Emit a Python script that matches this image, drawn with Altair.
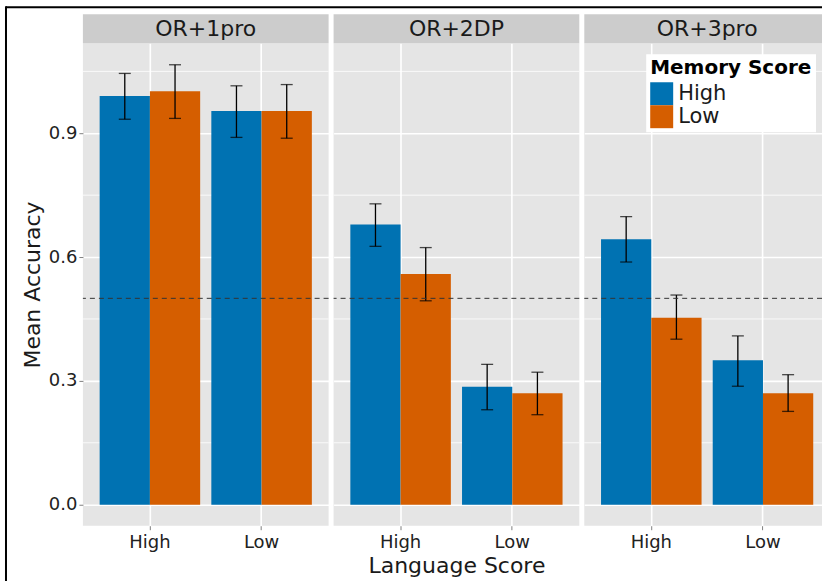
import altair as alt
import pandas as pd

# Facet panels and the grouping variables
panels = ["OR+1pro", "OR+2DP", "OR+3pro"]
language = ["High", "High", "Low", "Low"]
memory = ["High", "Low", "High", "Low"]

# Mean accuracy and error-bar limits, per panel, in the order of language/memory
acc_1pro = [0.990, 1.002, 0.954, 0.954]
lo_1pro = [0.934, 0.936, 0.890, 0.888]
hi_1pro = [1.045, 1.066, 1.015, 1.018]

acc_2dp = [0.679, 0.559, 0.286, 0.270]
lo_2dp = [0.626, 0.494, 0.230, 0.218]
hi_2dp = [0.729, 0.623, 0.340, 0.321]

acc_3pro = [0.643, 0.453, 0.350, 0.270]
lo_3pro = [0.588, 0.401, 0.287, 0.226]
hi_3pro = [0.698, 0.508, 0.409, 0.315]

chance = [0.5]
y_ticks = [0.0, 0.3, 0.6, 0.9]
y_minor = [0.15, 0.45, 0.75, 1.05]
y_domain = [-0.051, 1.118]

mem_colors = ["#0072B2", "#D55E00"]
FONT = "DejaVu Sans"
PANEL_W = 246
PANEL_H = 483
STRIP_H = 29

values = [(acc_1pro, lo_1pro, hi_1pro), (acc_2dp, lo_2dp, hi_2dp), (acc_3pro, lo_3pro, hi_3pro)]


def make_panel(i, width, xscale, first=False, middle=False, legend=None):
    acc, lo, hi = values[i]
    df = pd.DataFrame({"language": language, "memory": memory,
                       "acc": acc, "lo": lo, "hi": hi})
    strip_df = pd.DataFrame({"panel": [panels[i]]})

    if first:
        yaxis = alt.Axis(values=y_ticks, format=".1f", title="Mean Accuracy",
                         labelFontSize=18, titleFontSize=22, titleFontWeight="normal",
                         labelColor="#222222", titleColor="#1a1a1a", titleFont=FONT,
                         labelFont=FONT, tickColor="#7f7f7f", tickSize=4,
                         labelPadding=2, titlePadding=4, domain=False,
                         grid=True, gridColor="white", gridWidth=1.6)
    else:
        yaxis = alt.Axis(values=y_ticks, labels=False, ticks=False, domain=False,
                         title=None, grid=True, gridColor="white", gridWidth=1.6)

    xaxis = alt.Axis(title="Language Score" if middle else None, labelAngle=0,
                     labelFontSize=18, titleFontSize=22, titleFontWeight="normal",
                     labelColor="#222222", titleColor="#1a1a1a", labelFont=FONT,
                     titleFont=FONT, tickColor="#7f7f7f", tickSize=4,
                     labelPadding=4, titlePadding=4, domain=False, grid=True,
                     gridColor="white", gridWidth=1.6, bandPosition=0.5)

    yscale = alt.Scale(domain=y_domain, nice=False, zero=False)
    x = alt.X("language:N", scale=xscale, axis=xaxis, sort=["High", "Low"])
    xoff = alt.XOffset("memory:N", sort=["High", "Low"])

    # minor horizontal gridlines between the labelled ticks, drawn under the bars
    minor = alt.Chart(pd.DataFrame({"v": y_minor})).mark_rule(
        color="white", strokeWidth=0.8).encode(
        y=alt.Y("v:Q", scale=yscale, axis=yaxis))

    color = alt.Color("memory:N", sort=["High", "Low"],
                      scale=alt.Scale(domain=["High", "Low"], range=mem_colors),
                      legend=legend)
    bars = alt.Chart(df).mark_bar().encode(
        x=x, xOffset=xoff, y=alt.Y("acc:Q", scale=yscale, axis=yaxis), color=color)

    err = alt.Chart(df).mark_rule(color="black", strokeWidth=1.3).encode(
        x=alt.X("language:N", sort=["High", "Low"]), xOffset=xoff,
        y=alt.Y("lo:Q"), y2="hi:Q")
    cap_lo = alt.Chart(df).mark_tick(color="black", thickness=1.3, size=12,
                                     orient="horizontal").encode(
        x=alt.X("language:N", sort=["High", "Low"]), xOffset=xoff, y="lo:Q")
    cap_hi = alt.Chart(df).mark_tick(color="black", thickness=1.3, size=12,
                                     orient="horizontal").encode(
        x=alt.X("language:N", sort=["High", "Low"]), xOffset=xoff, y="hi:Q")

    ref = alt.Chart(pd.DataFrame({"c": chance})).mark_rule(
        color="#333333", strokeWidth=1, strokeDash=[5, 4]).encode(y="c:Q")

    strip = alt.Chart(strip_df).mark_rect(color="#cccccc").encode(
        x=alt.value(0), x2=alt.value(width),
        y=alt.value(-STRIP_H), y2=alt.value(0))
    strip_text = alt.Chart(strip_df).mark_text(
        font=FONT, fontSize=22, color="#1a1a1a", baseline="middle").encode(
        x=alt.value(PANEL_W / 2), y=alt.value(-STRIP_H / 2), text="panel:N")

    layers = [minor, bars, err, cap_lo, cap_hi, ref, strip, strip_text]

    if first:
        frame_top = alt.Chart(strip_df).mark_rule(color="black", strokeWidth=2).encode(
            x=alt.value(-77), x2=alt.value(740), y=alt.value(-36))
        frame_left = alt.Chart(strip_df).mark_rule(color="black", strokeWidth=2).encode(
            x=alt.value(-77), y=alt.value(-37), y2=alt.value(539))
        layers += [frame_top, frame_left]

    return alt.layer(*layers).properties(width=width, height=PANEL_H)


band = alt.Scale(paddingInner=0.1, paddingOuter=0.15)
band_clipped = alt.Scale(paddingInner=0.1, paddingOuter=0.1142, align=0.6565)

legend = alt.Legend(title="Memory Score", orient="none", legendX=62, legendY=11,
                    titleFont=FONT, titleFontSize=20, titleFontWeight="bold",
                    titleColor="black", labelFont=FONT, labelFontSize=21,
                    labelColor="#1a1a1a", symbolType="square", symbolSize=529,
                    symbolStrokeWidth=0, rowPadding=0, labelOffset=5,
                    fillColor="white", padding=4, titlePadding=4)

p1 = make_panel(0, PANEL_W, band, first=True)
p2 = make_panel(1, PANEL_W, band, middle=True)
p3 = make_panel(2, 238, band_clipped, legend=legend)

chart = alt.hconcat(p1, p2, p3, spacing=5, bounds="flush").resolve_scale(
    x="independent", y="independent", color="independent"
).properties(
    padding={"left": 5, "top": 5, "right": 0, "bottom": 0},
    background="white"
).configure_view(
    fill="#e5e5e5", stroke=None
)

chart.save("out.html", embed_options={"renderer": "svg", "actions": False})
